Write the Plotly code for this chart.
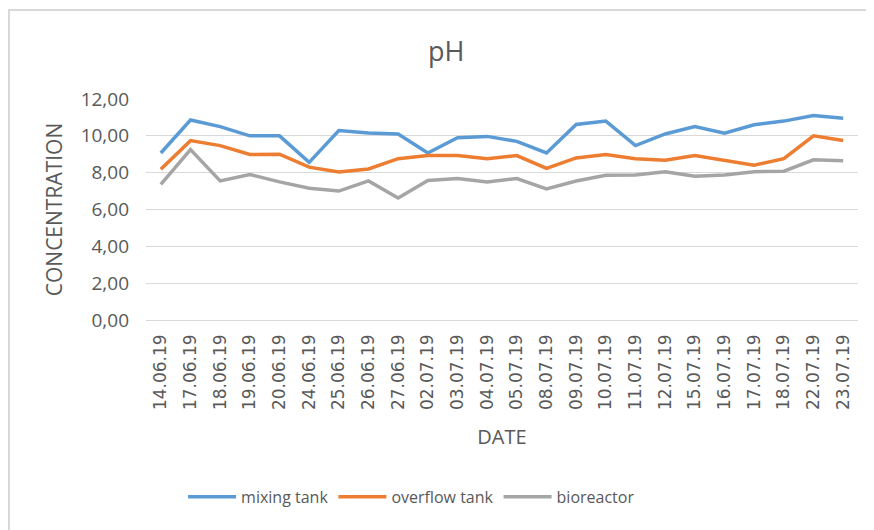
import plotly.graph_objects as go

dates = [
    "14.06.19", "17.06.19", "18.06.19", "19.06.19", "20.06.19", "24.06.19",
    "25.06.19", "26.06.19", "27.06.19", "02.07.19", "03.07.19", "04.07.19",
    "05.07.19", "08.07.19", "09.07.19", "10.07.19", "11.07.19", "12.07.19",
    "15.07.19", "16.07.19", "17.07.19", "18.07.19", "22.07.19", "23.07.19",
]
mixing_tank = [9.07, 10.86, 10.5, 10.0, 10.0, 8.56, 10.29, 10.15, 10.1, 9.07, 9.9, 9.97,
               9.7, 9.07, 10.62, 10.8, 9.47, 10.1, 10.5, 10.14, 10.6, 10.8, 11.1, 10.95]
overflow_tank = [8.18, 9.74, 9.47, 8.99, 9.0, 8.3, 8.04, 8.2, 8.76, 8.93, 8.93, 8.76,
                 8.93, 8.23, 8.8, 8.98, 8.76, 8.68, 8.93, 8.68, 8.41, 8.76, 10.0, 9.75]
bioreactor = [7.37, 9.25, 7.55, 7.9, 7.5, 7.15, 7.0, 7.55, 6.63, 7.58, 7.68, 7.5,
              7.68, 7.12, 7.55, 7.86, 7.88, 8.05, 7.8, 7.87, 8.05, 8.08, 8.7, 8.65]

series = [
    ("mixing tank", mixing_tank, "#5B9BD5"),
    ("overflow tank", overflow_tank, "#ED7D31"),
    ("bioreactor", bioreactor, "#A5A5A5"),
]

TEXT = "#595959"
GRID = "#D9D9D9"
FONT = "'Open Sans', 'Noto Sans', sans-serif"

fig = go.Figure()
for name, values, color in series:
    fig.add_trace(
        go.Scatter(
            x=dates,
            y=values,
            mode="lines",
            name=name,
            line=dict(color=color, width=3.5),
        )
    )

# chart area border (Excel style), only top/left visible in the crop
fig.add_shape(
    type="rect", xref="paper", yref="paper",
    x0=-0.1924, x1=1.05, y0=-1.05, y1=1.4032,
    line=dict(color=GRID, width=2), fillcolor="rgba(0,0,0,0)",
    layer="below",
)

fig.update_layout(
    width=866,
    height=522,
    separators=", ",
    title=dict(
        text="pH",
        x=0.506,
        xanchor="center",
        y=0.9157,
        yanchor="middle",
        font=dict(family=FONT, size=27, color=TEXT),
    ),
    xaxis=dict(
        type="category",
        range=[-0.5, len(dates) - 0.5],
        showgrid=False,
        showline=False,
        ticks="",
        tickangle=-90,
        ticklabelstandoff=10,
        tickfont=dict(family="DejaVu Sans", size=17, color=TEXT),
        title=dict(text="DATE", standoff=20,
                   font=dict(family=FONT, size=20, color=TEXT)),
    ),
    yaxis=dict(
        range=[0, 12],
        dtick=2,
        tickformat=".2f",
        showgrid=True,
        gridcolor=GRID,
        gridwidth=1,
        zeroline=True,
        zerolinecolor=GRID,
        zerolinewidth=1,
        showline=False,
        ticks="",
        ticklabelstandoff=16,
        tickfont=dict(family=FONT, size=19, color=TEXT),
        title=dict(text="CONCENTRATION", standoff=12,
                   font=dict(family=FONT, size=21, color=TEXT)),
    ),
    legend=dict(
        orientation="h",
        x=0.373,
        xanchor="center",
        y=-0.80,
        yanchor="middle",
        itemwidth=48,
        font=dict(family=FONT, size=16, color=TEXT),
        bgcolor="rgba(255,255,255,0)",
    ),
    showlegend=True,
    margin=dict(l=138, r=16, t=90.5, b=209.5, autoexpand=False),
    paper_bgcolor="#ffffff",
    plot_bgcolor="#ffffff",
)

fig.write_html("out.html")
